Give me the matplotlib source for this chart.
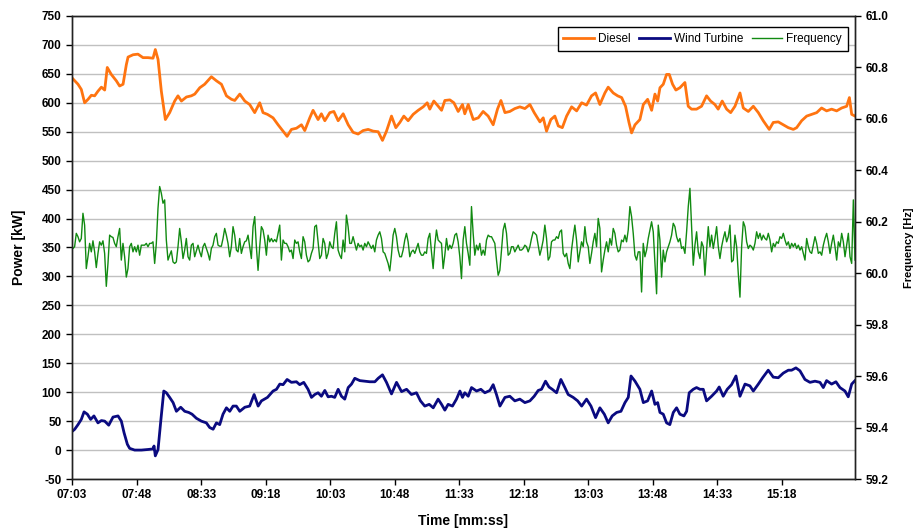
import numpy as np
import matplotlib
matplotlib.use('Agg')
import matplotlib.pyplot as plt
from matplotlib.ticker import FuncFormatter, MultipleLocator

plt.rcParams['font.family'] = ['Liberation Sans', 'DejaVu Sans']
plt.rcParams['axes.unicode_minus'] = False

# Diesel power [kW] -- time in seconds
diesel_t = [423, 424.9, 427.2, 429.5, 431.8, 434.2, 436.5, 438.8, 441.1, 443.5, 445.8, 447.6, 450.4, 453.9,
            456.2, 458.6, 460.9, 462.1, 465.6, 469.0, 472.5, 476.0, 479.5, 481.1, 483.0, 485.3, 488.1, 491.1,
            494.6, 496.9, 499.3, 502.8, 506.2, 508.6, 512.1, 515.5, 520.2, 523.7, 527.2, 530.7, 534.2, 536.5,
            540.0, 543.5, 546.9, 550.4, 553.9, 556.2, 559.3,
            563.2, 566.7, 570.2, 573.0, 576.0, 579.5, 583.0, 585.3, 588.8, 591.1, 594.6, 596.9, 599.3, 602.8,
            605.6, 608.6, 612.1, 615.6, 619.0, 622.5, 626.0, 629.5, 633.0, 636.5, 639.5, 642.3, 645.8, 648.8,
            651.6, 654.4, 657.4, 660.9, 664.4, 667.9, 670.7, 672.5, 675.3, 678.4, 680.7, 683.0, 686.5, 689.3,
            692.3, 695.3,
            696.9, 699.3, 702.8, 706.3, 709.7, 713.2, 716.7, 719.7, 722.1, 724.9, 728.3, 731.8, 735.3, 738.8,
            742.3, 745.3, 749.3, 751.6, 753.9, 756.9, 759.7, 762.1, 764.9, 767.9, 771.4, 774.9, 778.4, 781.8,
            785.3, 788.1, 791.1, 794.6, 796.9, 800.4, 803.5, 806.3, 809.0, 811.4, 813.2, 815.6, 819.0, 821.4,
            824.4, 827.2, 829.5, 831.4,
            833.0, 835.3, 837.6, 839.5, 841.8, 844.1, 846.9, 850.4, 852.7, 855.0, 858.5, 862.0, 865.5, 868.3,
            871.3, 873.6, 876.4, 879.5, 882.3, 885.3, 888.8, 891.1, 894.6, 898.1, 901.6, 905.0, 909.2, 912.0,
            915.5, 919.0, 922.5, 926.0, 928.3, 931.8, 935.3, 938.8, 942.3, 945.7, 949.2, 952.7, 956.2, 959.7,
            963.2, 965.1, 966.7, 969.0]
diesel_kw = [643, 638, 632, 623, 600, 606, 613, 612, 620, 627, 622, 661, 649, 638,
             629, 632, 666, 679, 683, 684, 678, 678, 677, 692, 675, 620, 571, 583,
             603, 612, 603, 610, 612, 615, 626, 632, 645, 638, 632, 612, 606, 604,
             615, 603, 597, 583, 600, 583, 580,
             574, 562, 551, 542, 554, 556, 562, 552, 574, 587, 571, 581, 569, 583,
             585, 569, 581, 562, 549, 546, 552, 554, 551, 550, 535, 551, 577, 557,
             566, 577, 569, 580, 587, 593, 600, 589, 603, 594, 587, 604, 605, 600,
             585, 597,
             581, 597, 571, 574, 585, 577, 562, 589, 604, 583, 585, 590, 593, 590,
             597, 583, 567, 574, 551, 571, 577, 560, 557, 577, 593, 586, 600, 596,
             612, 617, 597, 617, 627, 617, 612, 609, 594, 566, 548, 562, 571, 597,
             606, 587, 615, 603,
             626, 632, 649, 649, 632, 622, 626, 635, 594, 589, 589, 594, 612, 603,
             597, 589, 603, 589, 583, 594, 617, 591, 585, 594, 583, 569, 554, 566,
             567, 562, 557, 554, 557, 569, 577, 580, 583, 591, 586, 589, 586, 591,
             594, 609, 580, 577]

# Wind turbine power [kW]
wind_t = [423, 424.9, 427.2, 429.5, 431.4, 433.7, 436.0, 438.3, 441.1, 443.5, 445.8, 448.6, 451.6, 455.1,
          457.4, 459.3, 461.6, 463.2, 466.7, 471.4, 476.0, 479.5, 480.2, 481.1, 483.0, 484.9, 487.0, 488.8,
          491.1, 493.5, 495.8, 498.8, 501.6, 504.4, 506.7, 509.7, 513.2, 516.7, 519.0, 521.4, 523.7, 526.0,
          528.3, 530.7, 533.0, 535.3, 537.6, 540.0, 543.5, 546.9, 550.0, 552.8, 555.1, 559.3,
          563.2, 565.6, 567.9, 570.2, 573.0, 576.0, 579.5, 581.8, 584.6, 587.6, 590.0, 592.3, 594.6, 596.9,
          599.3, 601.6, 603.9, 606.2, 608.6, 610.9, 613.2, 615.6, 617.9, 620.2, 623.7, 627.2, 630.7, 634.2,
          636.5, 639.5, 642.3, 645.8, 649.3, 652.8, 656.3, 659.7, 663.2, 666.0, 669.0, 672.1, 674.9, 678.3,
          680.7, 683.0, 685.3, 688.3, 691.1, 693.5, 695.3,
          696.9, 699.3, 701.6, 705.1, 708.1, 710.9, 714.4, 716.7, 719.0, 721.4, 724.9, 728.3, 731.8, 735.3,
          738.8, 742.3, 745.3, 748.1, 750.4, 753.2, 755.6, 757.9, 760.9, 763.9, 766.7, 769.0, 772.5, 775.6,
          778.4, 781.8, 784.9, 788.1, 791.1, 794.2, 796.9, 799.7, 802.8, 805.8, 808.6, 810.9, 812.8, 815.6,
          819.0, 821.4, 824.4, 827.2, 829.5, 831.4,
          833.0, 835.3, 837.6, 839.9, 842.3, 844.6, 846.9, 849.7, 851.6, 853.4, 856.2, 858.5, 860.9, 863.2,
          865.5, 869.0, 872.5, 874.3, 877.1, 879.9, 882.9, 886.0, 888.8, 892.3, 895.7, 898.1, 901.6, 904.6,
          908.5, 912.0, 915.5, 919.0, 922.5, 924.8, 927.8, 930.6, 934.1, 937.6, 941.1, 944.6, 946.9, 949.2,
          952.7, 955.7, 958.5, 962.0, 964.3, 966.7, 969.0]
wind_kw = [32, 36, 44, 53, 66, 62, 53, 59, 47, 51, 50, 43, 57, 59,
           50, 30, 10, 3, 0, 0, 1, 2, 7, -10, 1, 50, 102, 99,
           91, 82, 67, 74, 67, 65, 62, 55, 50, 47, 39, 36, 47, 44,
           62, 73, 67, 76, 76, 67, 74, 76, 96, 76, 85, 91,
           102, 105, 114, 113, 122, 117, 118, 113, 117, 105, 91, 96, 99, 93,
           103, 92, 93, 91, 105, 93, 88, 108, 114, 124, 120, 119, 118, 118,
           124, 130, 117, 97, 117, 101, 105, 96, 99, 85, 76, 79, 73, 88,
           79, 69, 79, 76, 88, 102, 91,
           99, 93, 108, 102, 105, 99, 103, 113, 96, 76, 91, 93, 85, 88,
           82, 85, 93, 103, 105, 119, 109, 105, 99, 122, 108, 96, 91, 85,
           76, 88, 76, 56, 73, 62, 47, 59, 65, 67, 82, 91, 128, 119,
           105, 82, 85, 102, 79, 82,
           65, 62, 47, 44, 65, 73, 62, 59, 67, 99, 105, 108, 105, 105,
           85, 93, 102, 109, 93, 105, 113, 128, 93, 114, 111, 102, 114, 125,
           138, 126, 125, 133, 138, 138, 142, 137, 122, 117, 119, 117, 108, 120,
           114, 118, 108, 102, 92, 114, 120]

# Grid frequency [Hz], sampled every ~1.16 s from 07:02.5
freq_start = 422.5
freq_step = 1.1628
freq_hz = [
    60.113, 60.096, 60.103, 60.155, 60.142, 60.122, 60.135, 60.233, 60.187, 60.018,
    60.064, 60.116, 60.083, 60.126, 60.083, 60.022, 60.077, 60.122, 60.109, 60.126,
    60.077, 59.949, 60.038, 60.148, 60.142, 60.139, 60.116, 60.103, 60.142, 60.174,
    60.051, 60.116, 60.064, 59.985, 60.018, 60.103, 60.116, 60.083, 60.103, 60.083,
    60.109, 60.070, 60.109, 60.109, 60.109, 60.116, 60.103, 60.116, 60.116, 60.122,
    60.038, 60.116, 60.252, 60.337, 60.311, 60.272, 60.285, 60.129, 60.051, 60.070,
    60.087, 60.044, 60.038, 60.044, 60.103, 60.174, 60.122, 60.057, 60.090, 60.135,
    60.064, 60.051, 60.109, 60.116, 60.064, 60.087, 60.109, 60.083, 60.064, 60.103,
    60.116, 60.096, 60.077, 60.051, 60.096, 60.109, 60.142, 60.155, 60.109, 60.105,
    60.105, 60.135, 60.174, 60.148, 60.116, 60.064, 60.103, 60.181, 60.148, 60.090,
    60.083, 60.135, 60.077, 60.103, 60.122, 60.126, 60.148, 60.103, 60.057, 60.181,
    60.220, 60.103, 60.011, 60.103, 60.181, 60.168, 60.129, 60.070,
    60.148, 60.122, 60.135, 60.122, 60.131, 60.122, 60.155, 60.187, 60.051, 60.129,
    60.116, 60.116, 60.103, 60.083, 60.090, 60.057, 60.129, 60.116, 60.122, 60.083,
    60.057, 60.142, 60.122, 60.070, 60.044, 60.051, 60.077, 60.096, 60.181, 60.187,
    60.122, 60.057, 60.070, 60.135, 60.116, 60.057, 60.077, 60.122, 60.103, 60.096,
    60.155, 60.200, 60.090, 60.070, 60.057, 60.129, 60.083, 60.226, 60.181, 60.116,
    60.116, 60.142, 60.116, 60.090, 60.116, 60.103, 60.109, 60.090, 60.116, 60.103,
    60.122, 60.109, 60.096, 60.109, 60.083, 60.129, 60.148, 60.161, 60.135, 60.083,
    60.077, 60.057, 60.038, 60.009, 60.070, 60.148, 60.174, 60.142, 60.090, 60.064,
    60.064, 60.090, 60.129, 60.155, 60.122, 60.064, 60.083, 60.090, 60.077, 60.096,
    60.116, 60.083, 60.070, 60.070, 60.083, 60.077, 60.135, 60.155, 60.083, 60.018,
    60.109, 60.168, 60.129, 60.122, 60.116, 60.018, 60.070, 60.135, 60.090, 60.109,
    60.096, 60.116, 60.148, 60.155, 60.122, 60.064, 59.979,
    60.129, 60.181, 60.116, 60.077, 60.031, 60.259, 60.155, 60.070, 60.109, 60.090,
    60.116, 60.070, 60.090, 60.070, 60.129, 60.148, 60.142, 60.142, 60.129, 60.116,
    60.051, 59.992, 60.011, 60.090, 60.168, 60.194, 60.155, 60.070, 60.077, 60.103,
    60.103, 60.083, 60.096, 60.109, 60.090, 60.090, 60.096, 60.109, 60.103, 60.083,
    60.103, 60.135, 60.161, 60.155, 60.148, 60.109, 60.070, 60.096, 60.129, 60.187,
    60.135, 60.051, 60.064, 60.122, 60.129, 60.129, 60.142, 60.135, 60.161, 60.168,
    60.077, 60.064, 60.077, 60.038, 60.018, 60.090, 60.142, 60.187, 60.129, 60.044,
    60.083, 60.122, 60.103, 60.181, 60.122, 60.103, 60.038, 60.077, 60.122, 60.155,
    60.103, 60.213, 60.174, 60.005, 60.051, 60.090, 60.122, 60.083, 60.135, 60.109,
    60.174, 60.155, 60.109, 60.083, 60.090, 60.129, 60.122, 60.148, 60.122, 60.168,
    60.259, 60.220, 60.155, 60.070, 60.051, 60.083, 60.083, 59.927, 60.116, 60.064,
    60.090, 60.135, 60.168, 60.200, 60.161, 60.038, 59.920,
    60.187, 60.129, 59.985, 60.090, 60.044, 60.083, 60.103, 60.122, 60.148, 60.194,
    60.181, 60.142, 60.122, 60.135, 60.096, 60.103, 60.077, 60.161, 60.259, 60.330,
    60.181, 60.031, 60.109, 60.161, 60.083, 60.057, 60.122, 60.103, 59.992, 60.090,
    60.181, 60.103, 60.148, 60.096, 60.135, 60.181, 60.103, 60.057, 60.103, 60.135,
    60.161, 60.122, 60.142, 60.187, 60.044, 60.051, 60.148, 60.103, 59.998, 59.907,
    60.103, 60.200, 60.181, 60.122, 60.096, 60.109, 60.103, 60.090, 60.116, 60.161,
    60.135, 60.155, 60.129, 60.148, 60.135, 60.129, 60.155, 60.129, 60.083, 60.116,
    60.103, 60.122, 60.116, 60.142, 60.135, 60.155, 60.129, 60.109, 60.122, 60.096,
    60.116, 60.103, 60.116, 60.096, 60.109, 60.090, 60.103, 60.077, 60.051, 60.135,
    60.103, 60.083, 60.077, 60.109, 60.142, 60.116, 60.077, 60.083, 60.070, 60.109,
    60.135, 60.155, 60.122, 60.077, 60.116, 60.148, 60.103, 60.051, 60.122, 60.103,
    60.155, 60.122, 60.064, 60.109, 60.155, 60.064, 60.038, 60.285, 60.051,
]
freq_t = freq_start + freq_step * np.arange(len(freq_hz))

tick_secs = [423 + 45 * i for i in range(12)]

fig = plt.figure(figsize=(9.16, 5.32), dpi=100)
ax = fig.add_axes([0.0786, 0.0996, 0.8548, 0.8704])
ax2 = ax.twinx()

l1, = ax.plot(diesel_t, diesel_kw, color='#ff7410', lw=2.0, label='Diesel')
l2, = ax.plot(wind_t, wind_kw, color='#0a0a80', lw=2.0, label='Wind Turbine')
l3, = ax2.plot(freq_t, freq_hz, color='#118a11', lw=1.0, label='Frequency')

ax.set_xlim(423, 969)
ax.set_ylim(-50, 750)
ax.yaxis.set_major_locator(MultipleLocator(50))
ax2.set_ylim(59.2, 61.0)
ax2.yaxis.set_major_locator(MultipleLocator(0.2))
ax2.yaxis.set_major_formatter(FuncFormatter(lambda v, p: f'{v:.1f}'))
ax.set_xticks(tick_secs)
ax.set_xticklabels([f'{s // 60:02d}:{s % 60:02d}' for s in tick_secs])

ax.grid(axis='y', color='#c0c0c0', lw=1.0)
ax.set_axisbelow(True)
for a in (ax, ax2):
    for sp in a.spines.values():
        sp.set_color('#222222')
        sp.set_linewidth(1.0)
    a.tick_params(labelsize=8.5, length=4, width=1.0, direction='out')
for lab in ax.get_xticklabels() + ax.get_yticklabels() + ax2.get_yticklabels():
    lab.set_fontweight('bold')

ax.set_ylabel('Power [kW]', fontsize=10, fontweight='bold', labelpad=11)
ax.set_xlabel('Time [mm:ss]', fontsize=10, fontweight='bold', labelpad=9)
ax2.set_ylabel('Frequency [Hz]', fontsize=8, fontweight='bold', labelpad=11)

leg = ax.legend(handles=[l1, l2, l3], loc='upper right', ncol=3, fontsize=8.5, frameon=True,
                fancybox=False, edgecolor='black', framealpha=1, borderaxespad=0,
                bbox_to_anchor=(0.991, 0.976),
                handlelength=2.6, columnspacing=0.7, handletextpad=0.35, borderpad=0.5)
leg.get_frame().set_linewidth(1.0)
leg.set_zorder(10)

fig.savefig('out.png', dpi=100)
